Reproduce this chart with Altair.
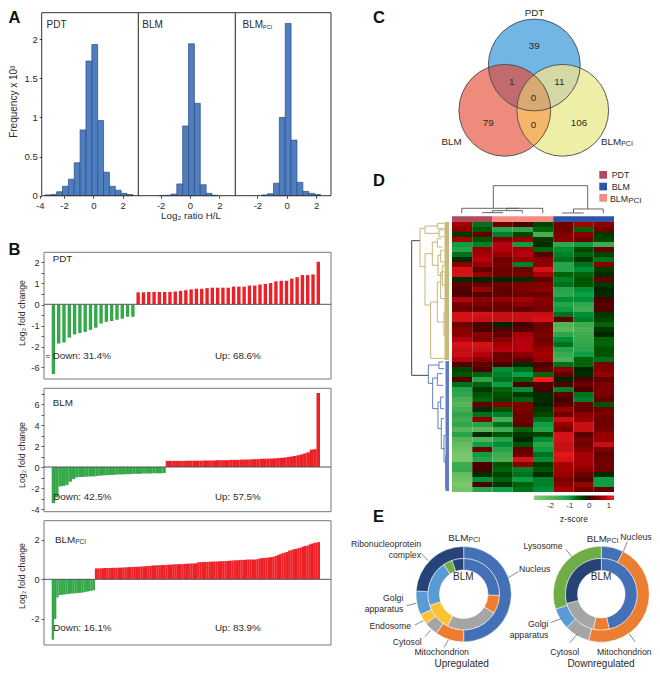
import math
import altair as alt
import pandas as pd

FONT = "Liberation Sans"
INK = "#2b2b2b"
M = 8  # page margin

# ---------- Panel A data ----------
HIST_PDT_LO = [-3.3,-2.9,-2.5,-2.1,-1.7,-1.3,-0.9,-0.5,-0.1,0.3,0.7,1.1,1.5,1.9,2.3]
HIST_PDT = [0.01,0.015,0.05,0.12,0.21,0.42,0.84,1.72,1.93,0.96,0.30,0.12,0.07,0.03,0.015]
HIST_BLM_LO = [-2.1,-1.7,-1.3,-0.9,-0.5,-0.1,0.3,0.7,1.1,1.5]
HIST_BLM = [0.003,0.005,0.02,0.15,0.89,1.94,1.18,0.14,0.03,0.005]
HIST_PCI_LO = [-1.7,-1.3,-0.9,-0.5,-0.1,0.3,0.7,1.1,1.5,1.9]
HIST_PCI = [0.01,0.025,0.16,1.0,2.2,0.71,0.17,0.055,0.03,0.015]

# ---------- Panel B data ----------
PDT_DOWN = [-6.7,-1.85,-1.8,-1.57,-1.42,-1.35,-1.3,-1.2,-1.1,-0.9,-0.82,-0.78,-0.72,-0.67,-0.58,-0.58]
PDT_UP = [0.58,0.58,0.6,0.6,0.6,0.6,0.6,0.62,0.65,0.68,0.72,0.75,0.75,0.78,0.8,0.8,0.8,0.8,0.85,0.85,0.85,
          0.9,0.9,0.95,0.98,1.02,1.1,1.13,1.13,1.23,1.3,1.4,1.4,1.43,2.03]
BLM_DOWN = [-3.45,-2.9,-1.85,-1.8,-1.7,-1.4,-1.15,-0.98,-0.95,-0.93,-0.92,-0.9,-0.9,-0.85,-0.82,-0.8,-0.78,
            -0.75,-0.75,-0.72,-0.7,-0.7,-0.68,-0.68,-0.65,-0.65,-0.65,-0.62,-0.62,-0.62,-0.6,-0.6,-0.6,-0.58]
BLM_UP = [0.58,0.58,0.58,0.58,0.58,0.58,0.6,0.6,0.6,0.6,0.6,0.62,0.62,0.62,0.62,0.65,0.65,0.65,0.65,0.68,0.68,
          0.68,0.7,0.7,0.72,0.72,0.75,0.75,0.78,0.78,0.8,0.8,0.82,0.85,0.88,0.9,0.95,1.0,1.05,1.12,1.2,1.3,1.4,
          1.65,1.7,7.05]
PCI_DOWN = [-3.05,-2.0,-0.92,-0.8,-0.78,-0.77,-0.75,-0.74,-0.72,-0.72,-0.7,-0.7,-0.68,-0.67,-0.65,-0.62,-0.6,-0.58,-0.55]
PCI_UP = [0.55,0.55,0.56,0.56,0.57,0.57,0.57,0.58,0.58,0.58,0.59,0.59,
          0.6,0.6,0.61,0.62,0.62,0.63,0.63,0.64,0.65,0.65,0.66,0.67,0.68,0.7,
          0.7,0.71,0.71,0.72,0.72,0.73,0.74,0.74,0.75,0.76,0.76,0.77,0.77,0.78,0.79,0.79,0.8,0.8,0.81,
          0.86,0.87,0.87,0.88,0.88,0.89,0.89,0.9,0.9,0.91,0.91,0.92,0.92,0.93,0.94,0.95,
          0.96,0.96,0.97,0.98,0.98,0.99,1.0,1.0,1.0,1.0,1.02,1.05,1.07,
          1.08,1.09,1.1,1.12,1.14,1.18,1.22,1.27,1.32,1.35,1.38,
          1.45,1.48,1.52,1.54,1.57,1.6,1.65,1.68,1.7,1.76,1.8,1.84,1.86,1.88]

# ---------- Panel C data ----------
VENN_NAMES = ["PDT","BLM","PCI"]
VENN_COLORS = {"PDT":"#72B6E6","BLM":"#EF8B7C","PCI":"#EFEEA6"}
VENN_PAIR_COLORS = {("PDT","BLM"):"#C26B6E",("PDT","PCI"):"#D3D8A6",("BLM","PCI"):"#F5B669"}
VENN_TRIPLE_COLOR = "#D9A973"
VENN_COUNTS = [("39",534.3,45.7),("1",511.7,82.3),("11",559.3,82.3),("0",533.5,97.7),
               ("79",488.3,123.3),("0",533.5,125),("106",579,123.3)]

# ---------- Panel D data ----------
HEAT_ROWS = [
 [.7,-.7,.3,0,-.4,.3,.7,.5],[.5,-.5,-1.2,-1.2,-.6,.3,-.6,.3],[-.3,.2,-.8,-.4,-1.6,.4,.5,-.3],
 [.7,-.5,.4,.6,-.3,.5,.3,-.4],[-1.0,-.8,.8,-1.0,-.2,-1.3,-1.0,-1.5],[-1.2,.6,.8,.7,-.6,-.9,-.4,.2],
 [-.7,.7,.6,.8,.1,-.8,-.6,-.4],[-.2,.8,.3,.6,.5,-.7,-.3,-.7],[.5,.6,.4,-.8,.5,-1.2,-.7,.5],
 [1.0,.2,.3,.3,1.0,-1.2,-.9,-.3],[1.0,.6,.3,.4,.7,-.6,-.6,-.2],[-.2,-.1,-.1,-.2,.2,-.8,-.5,.2],
 [.2,.2,.3,.4,.4,-.7,-.5,-.3],[.1,.6,.2,.4,.5,-1.2,-.9,-.1],[0,.1,.2,.3,.3,-1.3,-1.0,-.2],
 [.8,.5,.6,.7,.5,-.9,-.9,0],[.4,.4,.3,.5,.4,-1.2,-1.3,.1],[.3,.2,.3,.2,.4,-1.0,-1.5,.1],
 [1.0,1.0,.9,.9,.9,-.7,-.9,-.3],[1.0,.9,.9,.9,1.0,.2,-.8,-.4],[.3,0,-.1,0,.3,-1.8,-1.5,-.6],
 [.5,0,.1,.1,.3,-2.0,-1.7,-.3],[.5,.5,.2,.7,.4,-1.3,-1.5,-.1],[.8,.4,.5,.8,.3,-.9,-1.4,-.6],
 [1.0,1.0,.7,.8,.4,-.7,-1.3,-.6],[.9,.9,.8,.8,.6,-1.2,-1.2,-.5],[.9,.8,.3,.5,.7,-1.4,-1.0,-.5],
 [.8,.5,.3,.2,.6,-1.7,-.6,-.7],[.1,.2,0,-.2,0,-.7,-.6,.4],[-.4,0,-.9,-.7,.2,.5,-.1,.4],
 [-.5,-.6,-.8,-1.0,-.6,.2,-.2,.6],[.1,-1.2,-.7,-.6,1.3,-.1,0,.2],[-.7,-.6,-1.0,0,.1,.1,.3,.4],
 [-1.2,-.3,-.6,-.9,0,-.8,0,.4],[-1.3,-.5,-.5,-.3,-.2,.2,-.7,.4],[-1.7,-.6,-.4,-.6,-.2,0,-.8,.2],
 [-1.9,.2,.5,.4,-.1,.1,.3,-.5],[-1.6,-.2,-.5,.4,-.3,.6,.2,.3],[-1.3,-.7,-.8,.3,-.4,.3,.5,.4],
 [-1.5,.5,-1.6,.3,-.7,.9,.6,.3],[-1.3,-1.2,-.7,.2,-1.0,.6,.9,.3],[-1.9,-2.0,-1.5,-.6,-1.2,.4,.9,.4],
 [-1.2,-.2,-.5,-.3,-.4,1.0,.1,.6],[-1.9,-1.8,-1.2,-.1,-.9,1.0,.4,.6],[-2.2,-1.0,-.9,-.5,-1.2,.9,.3,.9],
 [-2.4,.3,-1.2,.2,-1.0,.9,.5,.4],[-2.6,-1.0,-1.5,.3,-.7,1.1,.7,.2],[-2.6,-1.2,-1.7,1.0,-.9,1.0,.7,.3],
 [-1.5,0,-.5,.5,-.3,.7,.7,.3],[-1.4,0,-.6,-.8,-.5,.7,.5,.3],[-2.2,-.2,-.4,-.7,-.2,.6,.3,-.2],
 [-2.4,-.9,-.6,-1.0,-.8,.4,.1,-1.0],[-2.6,0,-.3,-.6,-.8,.5,.6,-1.0],[-2.5,-1.2,-1.0,-.7,-.9,.7,.3,.2],
]
ANNOT = [(0,2,"#B24A5E"),(2,5,"#F48C83"),(5,8,"#2F54A6")]
# dendrogram brackets: (height, pos0, pos1, child height 0, child height 1)
DEND_TOP = [(83,2.04,6.7,15,13),(15,.48,3.3,0,15),(15,2.7,4.48,10,0),(8,2,3.47,2,0),(2,1.5,2.5,0,0),
            (13,6,7.47,1,0),(1,5.45,6.49,0,0)]
DEND_ROOT = [(107,56,460,82,57)]
DEND_TAN = [(82,19,134,67,67),(67,12,34,30,25),(30,4,20,10,8),(25,24,44,12,10),(67,95,249,45,50),
            (45,60,130,30,28),(30,50,75,18,15),(28,100,160,20,15),(20,85,120,10,8),(15,130,190,8,5),
            (50,240,409,30,2),(30,180,300,20,10),(20,150,230,10,6),(10,270,340,5,4)]
DEND_BLUE = [(57,429,484,25,44),(25,420,440,12,10),(44,468,560,30,28),(30,455,490,15,12),(28,540,620,20,18),
             (20,525,560,10,10),(18,590,680,10,8),(10,640,720,5,4),(5,700,800,2,2)]

# ---------- Panel E data (share of ring, %, clockwise from 12 o'clock) ----------
C_BLUE,C_ORANGE,C_GREY,C_YEL,C_LBLUE,C_GREEN,C_NAVY = "#4470B5","#ED7D31","#A5A5A5","#FFC135","#5B9BD5","#70AD47","#264478"
UP_OUTER = [50,9.7,4.7,3.6,8.1,23.9]
UP_OUTER_C = [C_BLUE,C_ORANGE,C_GREY,C_YEL,C_LBLUE,C_NAVY]
UP_INNER = [25.6,8.3,23.6,12.5,20.6,4.1,5.3]
UP_INNER_C = [C_BLUE,C_ORANGE,C_GREY,C_YEL,C_LBLUE,C_GREEN,C_NAVY]
DN_OUTER = [7.5,46.8,8.5,7.2,30]
DN_OUTER_C = [C_BLUE,C_ORANGE,C_GREY,C_LBLUE,C_GREEN]
DN_INNER = [46.4,7.2,17.2,29.2]
DN_INNER_C = [C_BLUE,C_ORANGE,C_GREY,C_NAVY]

L = []
data1 = alt.Data(values=[{}])

def px(v): return v - M

def text(s, x, y, size=9.7, align="left", angle=0, weight="normal", color=INK):
    L.append(alt.Chart(data1).mark_text(text=s, font=FONT, fontSize=size, align=align, baseline="middle",
             angle=angle, fontWeight=weight, color=color).encode(x=alt.value(px(x)), y=alt.value(px(y))))

def blm_pci(x, y, size, sub=None):
    sub = sub or size * 0.7
    text("BLM", x, y, size)
    text("PCI", x + 2.06 * size, y + size * 0.2, sub)

def rule(x0, y0, x1, y1, color="#555", w=0.8):
    L.append(alt.Chart(data1).mark_rule(color=color, strokeWidth=w).encode(
        x=alt.value(px(x0)), x2=alt.value(px(x1)), y=alt.value(px(y0)), y2=alt.value(px(y1))))

def box(x0, y0, x1, y1, stroke="#333", w=1.0, fill=None):
    kw = dict(fill=fill) if fill else dict(fillOpacity=0)
    if stroke:
        kw.update(stroke=stroke, strokeWidth=w)
    L.append(alt.Chart(data1).mark_rect(**kw).encode(
        x=alt.value(px(x0)), x2=alt.value(px(x1)), y=alt.value(px(y0)), y2=alt.value(px(y1))))

# ---------- Panel A ----------
A_TOP, A_BOT = 12.7, 195.7
A_UNIT_X, A_UNIT_Y = 14.67, 78.3
a_y = alt.Scale(domain=[0, 2.5], range=[px(A_BOT), px(A_BOT - 2.5 * A_UNIT_Y)])
CW, CH = 644, 662
def hist(lo, v, zero_px, xvals, expr, yaxis):
    df = pd.DataFrame({"lo": lo, "v": v})
    df["hi"] = df["lo"] + 0.4
    xs = alt.Scale(domain=[-4, 4], range=[px(zero_px - 4 * A_UNIT_X), px(zero_px + 4 * A_UNIT_X)])
    xax = alt.Axis(orient="bottom", values=xvals, labelExpr=expr, title=None, grid=False, domain=False, tickSize=2.5,
                   tickColor="#444", labelFont=FONT, labelFontSize=9.5, labelColor=INK, labelPadding=2,
                   offset=-(CH - px(A_BOT)), labelOverlap=False, labelFlush=False)
    yax = alt.Axis(orient="left", values=[0,0.5,1,1.5,2], labelExpr="datum.value + ''", title=None, grid=False, domain=False,
                   tickSize=2.5, tickColor="#444", labelFont=FONT, labelFontSize=9.5, labelColor=INK,
                   labelPadding=2, offset=-px(41.7), labelOverlap=False) if yaxis else None
    L.append(alt.Chart(df).mark_rect(fill="#4F7EC0", stroke="#2E4C7E", strokeWidth=0.7).encode(
        x=alt.X("lo:Q", scale=xs, axis=xax), x2="hi:Q",
        y=alt.Y("v:Q", scale=a_y, axis=yax), y2=alt.Y2(datum=0)))

hist(HIST_PDT_LO, HIST_PDT, 93.3, [-3.65,-2,0,2], "datum.value < -3 ? '-4' : datum.value + ''", True)
hist(HIST_BLM_LO, HIST_BLM, 190.0, [-2,0,2], "datum.value + ''", False)
hist(HIST_PCI_LO, HIST_PCI, 286.7, [-2,0,2], "datum.value + ''", False)
box(41.7, A_TOP, 331, A_BOT, "#333", 1)
rule(138.3, A_TOP, 138.3, A_BOT, "#222", 1)
rule(235.3, A_TOP, 235.3, A_BOT, "#222", 1)
text("PDT", 46.5, 24.5, 10)
text("BLM", 142.3, 24.5, 10)
blm_pci(242.5, 24.5, 10, 5.5)
text("Frequency x 10³", 13.5, 101.7, 10, "center", 270)
text("Log₂ ratio H/L", 191, 215.5, 9.8, "center")

# ---------- Panel B ----------
GREEN, RED = "#35A84A", "#EE2027"
def waterfall(down, up, yscale, top, bot, zero_px, ticks, expr, bw):
    vals = down + up
    n = len(vals)
    df = pd.DataFrame({"i": list(range(n)), "v": vals, "s": ["d"] * len(down) + ["u"] * len(up)})
    half = bw / 2
    xs = alt.Scale(domain=[0, n - 1], range=[px(46.7 + half), px(325.0 - half)])
    yax = alt.Axis(orient="left", values=ticks, labelExpr=expr, title=None, grid=False, domain=False, tickSize=3,
                   tickColor="#555", labelFont=FONT, labelFontSize=9.2, labelColor=INK, labelPadding=2,
                   offset=-px(44), labelOverlap=False)
    box(44, top, 331, bot, "#777", 1)
    L.append(alt.Chart(df).mark_bar(size=bw).encode(
        x=alt.X("i:Q", scale=xs, axis=None),
        y=alt.Y("v:Q", scale=yscale, axis=yax),
        color=alt.Color("s:N", scale=alt.Scale(domain=["d","u"], range=[GREEN, RED]), legend=None)))
    rule(44, zero_px, 331, zero_px, "#555", 1)

half_expr = "datum.value % 1 == 0 ? datum.value + '' : ''"
waterfall(PDT_DOWN, PDT_UP,
          alt.Scale(domain=[-7.2,-6,-2,2.48], range=[px(379),px(367.3),px(346.7),px(252.3)]),
          252.3, 379, 304.3, [2,1.5,1,.5,0,-.5,-1,-1.5,-2,-6], half_expr, 3.4)
waterfall(BLM_DOWN, BLM_UP,
          alt.Scale(domain=[-4.2,7.5], range=[px(467+4.2*10.5),px(467-7.5*10.5)]),
          388.3, 511.7, 467, [-4,-3,-2,-1,0,1,2,3,4,5,6,7],
          "datum.value % 2 == 0 ? datum.value + '' : ''", 3.5)
waterfall(PCI_DOWN, PCI_UP,
          alt.Scale(domain=[-3.3,3], range=[px(579.3+3.3*19.8),px(579.3-3*19.8)]),
          520.7, 645, 579.3, [-2,0,2], "datum.value + ''", 2.37)
text("PDT", 52.7, 259, 9.8)
text("Down: 31.4%", 52.7, 355.7, 9.8)
text("Up: 68.6%", 215, 355.7, 9.8)
text("≈", 45.5, 356.5, 8)
text("BLM", 52.7, 403.3, 9.8)
text("Down: 42.5%", 53.3, 496.7, 9.8)
text("Up: 57.5%", 215, 496.7, 9.8)
blm_pci(55, 539.8, 9.8, 6.5)
text("Down: 16.1%", 53.3, 628.3, 9.8)
text("Up: 83.9%", 215, 628.3, 9.8)
for yy in (313, 455, 576):
    text("Log₂ fold change", 21.5, yy, 8.8, "center", 270)

# ---------- Panel C ----------
VX, VY, VR = 534.0, 95.0, 45.9
V_CENTERS = {"PDT": (0.3, -30.0), "BLM": (-29.2, 15.3), "PCI": (28.7, 15.3)}

def intersections(a, b, r):
    (x0, y0), (x1, y1) = a, b
    d = math.hypot(x1 - x0, y1 - y0)
    h = math.sqrt(r * r - d * d / 4)
    mx, my = (x0 + x1) / 2, (y0 + y1) / 2
    ux, uy = (y1 - y0) / d, -(x1 - x0) / d
    return [(mx + ux * h, my + uy * h), (mx - ux * h, my - uy * h)]

def arc_path(points, r):
    cx = sum(p[0] for p in points) / len(points)
    cy = sum(p[1] for p in points) / len(points)
    pts = sorted(points, key=lambda p: math.atan2(p[1] - cy, p[0] - cx))
    s = f"M{pts[0][0]:.2f},{pts[0][1]:.2f}"
    for p in pts[1:] + pts[:1]:
        s += f"A{r},{r} 0 0 1 {p[0]:.2f},{p[1]:.2f}"
    return s + "Z"

venn_x = alt.Scale(domain=[-100, 100], range=[px(VX - 100), px(VX + 100)])
venn_y = alt.Scale(domain=[-100, 100], range=[px(VY - 100), px(VY + 100)])
order = ["BLM", "PCI", "PDT"]
for nm in order:
    cx, cy = V_CENTERS[nm]
    L.append(alt.Chart(pd.DataFrame({"x": [cx], "y": [cy]})).mark_point(
        filled=True, shape="circle", size=(2 * VR) ** 2, color=VENN_COLORS[nm], opacity=1, strokeWidth=0).encode(
        x=alt.X("x:Q", scale=venn_x, axis=None), y=alt.Y("y:Q", scale=venn_y, axis=None)))
triple = []
for (a, b), col in VENN_PAIR_COLORS.items():
    pts = intersections(V_CENTERS[a], V_CENTERS[b], VR)
    third = [n for n in VENN_NAMES if n not in (a, b)][0]
    t = V_CENTERS[third]
    triple += [p for p in pts if math.hypot(p[0] - t[0], p[1] - t[1]) < VR]
    L.append(alt.Chart(pd.DataFrame({"x": [0], "y": [0]})).mark_point(
        filled=True, shape=arc_path(pts, VR), size=4, color=col, opacity=1, strokeWidth=0).encode(
        x=alt.X("x:Q", scale=venn_x, axis=None), y=alt.Y("y:Q", scale=venn_y, axis=None)))
L.append(alt.Chart(pd.DataFrame({"x": [0], "y": [0]})).mark_point(
    filled=True, shape=arc_path(triple, VR), size=4, color=VENN_TRIPLE_COLOR, opacity=1, strokeWidth=0).encode(
    x=alt.X("x:Q", scale=venn_x, axis=None), y=alt.Y("y:Q", scale=venn_y, axis=None)))
for nm in order:
    cx, cy = V_CENTERS[nm]
    L.append(alt.Chart(pd.DataFrame({"x": [cx], "y": [cy]})).mark_point(
        filled=False, shape="circle", size=(2 * VR) ** 2, color="#4a4a4a", opacity=1, strokeWidth=0.9).encode(
        x=alt.X("x:Q", scale=venn_x, axis=None), y=alt.Y("y:Q", scale=venn_y, axis=None)))
for s, x, y in VENN_COUNTS:
    text(s, x, y, 9.8, "center")
text("PDT", 534.5, 13, 9.8, "center")
text("BLM", 441.5, 141.7, 9.8)
blm_pci(601, 142, 9.8, 7)

# ---------- Panel D ----------
HX0, HX1, HY0, HY1 = 452.0, 614.0, 222.0, 492.0
hm_x = alt.Scale(domain=[0, 8], range=[px(HX0), px(HX1)])
hm_y = alt.Scale(domain=[0, len(HEAT_ROWS)], range=[px(HY0), px(HY1)])
cells = [{"c0": c, "c1": c + 1, "r0": r, "r1": r + 1, "z": z}
         for r, row in enumerate(HEAT_ROWS) for c, z in enumerate(row)]
L.append(alt.Chart(pd.DataFrame(cells)).mark_rect(strokeWidth=0).encode(
    x=alt.X("c0:Q", scale=hm_x, axis=None), x2="c1:Q",
    y=alt.Y("r0:Q", scale=hm_y, axis=None), y2="r1:Q",
    color=alt.Color("z:Q", scale=alt.Scale(domain=[-2.85,-1,0,0.85,1.27],
                                           range=["#86CC72","#0B9F45","#000000","#BE0F14","#FF1A1A"]),
                    legend=alt.Legend(orient="none", legendX=px(534), legendY=px(495.5), direction="horizontal",
                                      gradientLength=80, gradientThickness=4.5, values=[-2,-1,0,1],
                                      labelExpr="datum.value + ''", title="z-score", titleOrient="bottom",
                                      titleFont=FONT, titleFontSize=8.5, titleFontWeight="normal", titleColor=INK,
                                      titleAnchor="middle", labelFont=FONT, labelFontSize=7.5, labelColor=INK))))
for c0, c1, col in ANNOT:
    df = pd.DataFrame({"c0": [c0], "c1": [c1]})
    L.append(alt.Chart(df).mark_rect(color=col).encode(
        x=alt.X("c0:Q", scale=hm_x, axis=None), x2="c1:Q", y=alt.value(px(216.3)), y2=alt.value(px(222))))

def brackets(rows):
    seg = []
    for h, p0, p1, h0, h1 in rows:
        seg.append(dict(a=h, b=p0, a2=h, b2=p1))
        seg.append(dict(a=h, b=p0, a2=h0, b2=p0))
        seg.append(dict(a=h, b=p1, a2=h1, b2=p1))
    return pd.DataFrame(seg)

top_p = alt.Scale(domain=[0, 8], range=[px(HX0), px(HX1)])
top_h = alt.Scale(domain=[0, 83], range=[px(213.3), px(185.7)])
L.append(alt.Chart(brackets(DEND_TOP)).mark_rule(color="#555", strokeWidth=0.9).encode(
    x=alt.X("b:Q", scale=top_p, axis=None), x2="b2:Q", y=alt.Y("a:Q", scale=top_h, axis=None), y2="a2:Q"))
left_h = alt.Scale(domain=[0, 107], range=[px(447.3), px(411.7)])
left_p = alt.Scale(domain=[0, 807], range=[px(222), px(491)])
for rows, col, w in ((DEND_ROOT, "#444", 1.0), (DEND_TAN, "#BFAE6A", 0.9), (DEND_BLUE, "#4F6FB5", 0.9)):
    L.append(alt.Chart(brackets(rows)).mark_rule(color=col, strokeWidth=w).encode(
        x=alt.X("a:Q", scale=left_h, axis=None), x2="a2:Q", y=alt.Y("b:Q", scale=left_p, axis=None), y2="b2:Q"))
box(444.5, 222, 449, 360, None, fill="#C9B978")
box(445.5, 361, 449, 491, None, fill="#5E7CBE")
for yy, col in ((171, "#B24A5E"), (182.7, "#2F54A6"), (194, "#F48C83")):
    box(599.3, yy, 607, yy + 7.7, None, fill=col)
text("PDT", 611.7, 175, 8.8)
text("BLM", 611.7, 187, 8.8)
blm_pci(610, 199, 8.8, 8)

# ---------- Panel E ----------
def ring(shares, colors, cx, cy, r0, r1):
    a = 0.0
    recs = []
    for s, c in zip(shares, colors):
        b = a + s / 100 * 2 * math.pi
        recs.append({"a0": a, "a1": b, "c": c})
        a = b
    L.append(alt.Chart(pd.DataFrame(recs)).mark_arc(radius=r1, radius2=r0, stroke="#ffffff", strokeWidth=0.5).encode(
        theta=alt.Theta("a0:Q", scale=None), theta2="a1:Q",
        color=alt.Color("c:N", scale=None),
        x=alt.value(px(cx)), y=alt.value(px(cy))))

ring(UP_OUTER, UP_OUTER_C, 463.7, 594.2, 35.7, 47.7)
ring(UP_INNER, UP_INNER_C, 463.7, 594.2, 24.3, 35.7)
ring(DN_OUTER, DN_OUTER_C, 601.3, 594.2, 35.8, 48)
ring(DN_INNER, DN_INNER_C, 601.3, 594.2, 23.8, 35.8)

def z(x, y): return x / 3 + 340, y / 3 + 510
LEADERS = [((243,130),(265,152)),((535,185),(505,203)),((200,287),(228,280)),((225,345),(250,332)),
           ((255,380),(272,360)),((312,412),(325,390)),((862,95),(850,125)),((678,118),(695,140)),
           ((632,338),(665,325)),((690,398),(712,372)),((885,395),(868,372))]
for p, q in LEADERS:
    rule(*z(*p), *z(*q), "#555", 0.7)
E_LABELS = [("Ribonucleoprotein",243,103,"right"),("complex",243,135,"right"),("Nucleus",537,177,"left"),
            ("Golgi",190,264,"right"),("apparatus",190,297,"right"),("Endosome",213,348,"right"),
            ("Cytosol",245,397,"right"),("Mitochondrion",305,427,"center"),("Nucleus",935,80,"right"),
            ("Lysosome",668,108,"right"),("Golgi",625,343,"right"),("apparatus",625,375,"right"),
            ("Cytosol",674,427,"center"),("Mitochondrion",935,427,"right")]
for s, x, y, al in E_LABELS:
    text(s, *z(x, y), 8.7, al)
for x, y in ((325, 85), (740, 88)):
    blm_pci(*z(x, y), 9.8, 7)
text("BLM", *z(370, 200), 10, "center")
text("BLM", *z(783, 200), 10, "center")
text("Upregulated", *z(365, 462), 10, "center")
text("Downregulated", *z(783, 462), 10, "center")

# ---------- Panel letters ----------
for s, x, y in (("A", 8.5, 17.5), ("B", 8.5, 250), ("C", 373, 17.5), ("D", 373, 181), ("E", 373, 517)):
    text(s, x, y, 16.5, "left", weight="bold", color="#111")

chart = alt.layer(*L).resolve_scale(x="independent", y="independent", color="independent").resolve_axis(
    x="independent", y="independent").properties(
    width=CW, height=CH, padding=0, autosize=alt.AutoSizeParams(type="none")
).configure_view(stroke=None)

chart.save("out.html", embed_options={"renderer": "svg", "actions": False})
